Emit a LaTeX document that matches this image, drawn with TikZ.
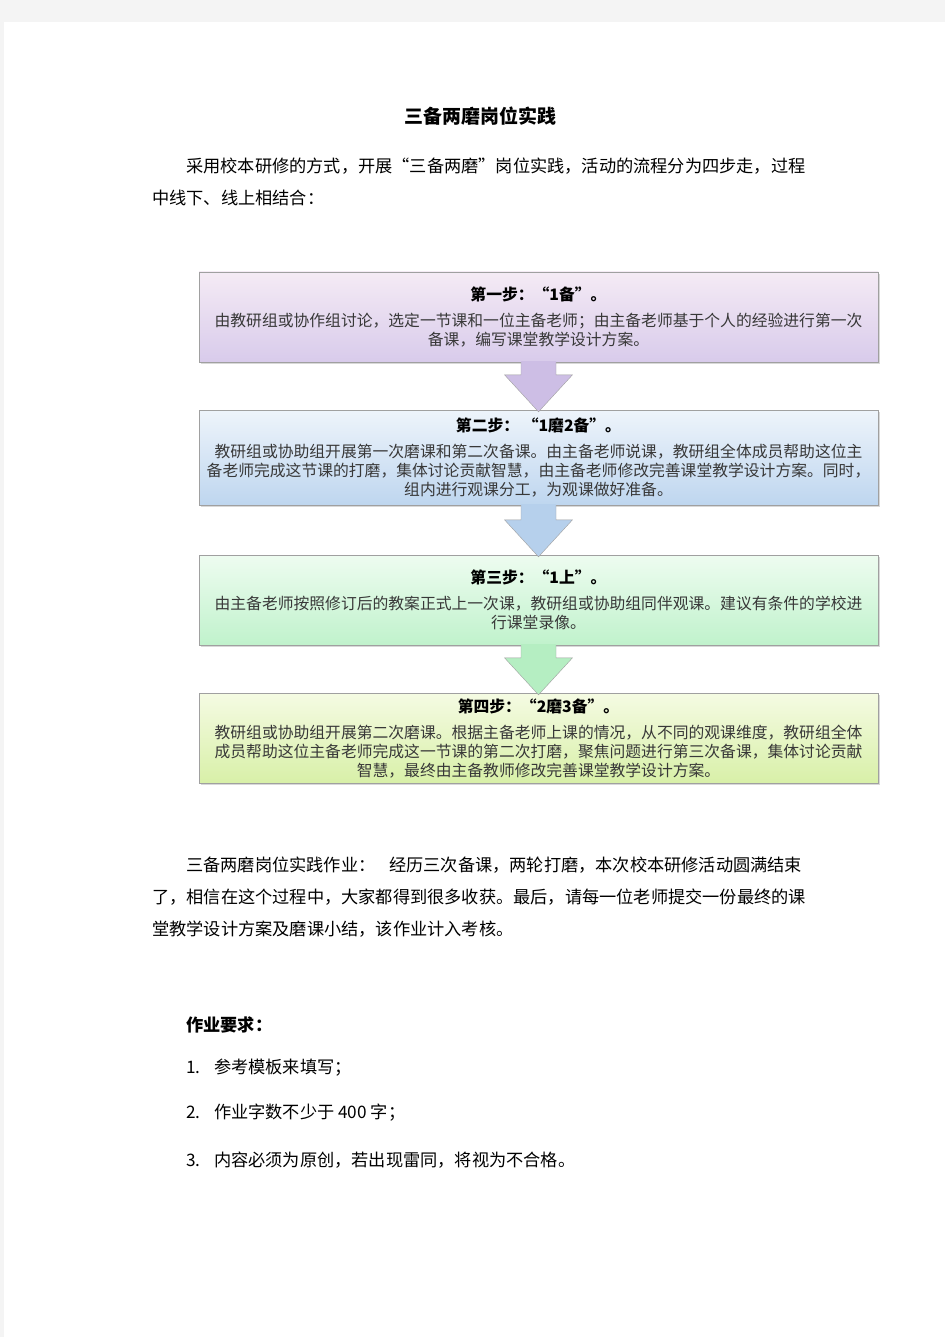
\documentclass[tikz,border=0pt]{standalone}
\usepackage{fontspec}
\setmainfont{Noto Sans CJK SC}
\usetikzlibrary{calc,shadows}
\definecolor{pagegray}{HTML}{F4F4F4}
\definecolor{boxline}{HTML}{A0A0A0}
\definecolor{boxtext}{HTML}{383838}
\definecolor{arrowa}{HTML}{CDBEE5}
\definecolor{arrowb}{HTML}{B6D0EC}
\definecolor{arrowc}{HTML}{B5EEC2}
\tikzset{
  stepbox/.style={draw=boxline, minimum width=679pt, minimum height=90pt, align=center,
    inner sep=0pt, text=boxtext, font=\fontsize{15.8}{19}\selectfont,
    drop shadow={opacity=0.3, shadow xshift=2pt, shadow yshift=-2pt}},
  bodyline/.style={anchor=west, inner sep=0pt, font=\fontsize{17.2}{17.2}\selectfont}
}
\begin{document}
\begin{tikzpicture}[x=1pt,y=-1pt]
\useasboundingbox (0,0) rectangle (945,1337);
\fill[pagegray] (0,0) rectangle (945,1337);
\fill[white] (4,22) rectangle (945,1337);
\node (title) at (480,116) [inner sep=0pt] {\bfseries\fontsize{19}{19}\selectfont 三备两磨岗位实践};
\node (introa) at (186,166) [bodyline] {采用校本研修的方式，开展“三备两磨”岗位实践，活动的流程分为四步走，过程};
\node (introb) at (152,198) [bodyline] {中线下、线上相结合：};
% the four steps
\node (stepa) at (538.5,317) [stepbox, top color=violet!8, bottom color={rgb,255:red,216;green,203;blue,235}]
  {\textcolor{black}{\bfseries 第一步：“1备”。}\\[7pt]
   由教研组或协作组讨论，选定一节课和一位主备老师；由主备老师基于个人的经验进行第一次\\
   备课，编写课堂教学设计方案。};
\node (stepb) at (538.5,457.5) [stepbox, minimum height=95pt, top color={rgb,255:red,238;green,244;blue,251}, bottom color={rgb,255:red,190;green,214;blue,239}]
  {\textcolor{black}{\bfseries 第二步：\ “1磨2备”。}\\[7pt]
   教研组或协助组开展第一次磨课和第二次备课。由主备老师说课，教研组全体成员帮助这位主\\
   备老师完成这节课的打磨，集体讨论贡献智慧，由主备老师修改完善课堂教学设计方案。同时，\\
   组内进行观课分工，为观课做好准备。};
\node (stepc) at (538.5,600) [stepbox, top color={rgb,255:red,238;green,252;blue,240}, bottom color={rgb,255:red,192;green,242;blue,204}]
  {\textcolor{black}{\bfseries 第三步：“1上”。}\\[7pt]
   由主备老师按照修订后的教案正式上一次课，教研组或协助组同伴观课。建议有条件的学校进\\
   行课堂录像。};
\node (stepd) at (538.5,738) [stepbox, top color={rgb,255:red,245;green,251;blue,227}, bottom color={rgb,255:red,216;green,240;blue,168}]
  {\textcolor{black}{\bfseries 第四步：“2磨3备”。}\\[7pt]
   教研组或协助组开展第二次磨课。根据主备老师上课的情况，从不同的观课维度，教研组全体\\
   成员帮助这位主备老师完成这一节课的第二次打磨，聚焦问题进行第三次备课，集体讨论贡献\\
   智慧，最终由主备教师修改完善课堂教学设计方案。};
% block arrows between the steps
\foreach \a/\b/\c in {stepa/stepb/arrowa,stepb/stepc/arrowb,stepc/stepd/arrowc} {
  \coordinate (h) at ($(\b.north)+(0,-35)$);
  \fill[\c] ($(\a.south)+(-17.5,-1)$) -- ($(h)+(-17.5,0)$) -- ($(h)+(-34,0)$) -- ($(\b.north)+(0,2)$)
    -- ($(h)+(34,0)$) -- ($(h)+(17.5,0)$) -- ($(\a.south)+(17.5,-1)$) -- cycle;
  \draw[boxline] ($(\a.south)+(-17.5,0)$) -- ($(h)+(-17.5,0)$) -- ($(h)+(-34,0)$) -- ($(\b.north)+(0,2)$)
    -- ($(h)+(34,0)$) -- ($(h)+(17.5,0)$) -- ($(\a.south)+(17.5,0)$);
}
\node (worka) at (186,865) [bodyline] {三备两磨岗位实践作业：\hspace{14pt}经历三次备课，两轮打磨，本次校本研修活动圆满结束};
\node (workb) at (152,897) [bodyline] {了，相信在这个过程中，大家都得到很多收获。最后，请每一位老师提交一份最终的课};
\node (workc) at (152,929) [bodyline] {堂教学设计方案及磨课小结，该作业计入考核。};
\node (reqhead) at (186,1025) [bodyline] {\bfseries 作业要求：};
\node (reqa) at (186,1068) [bodyline] {\makebox[28pt][l]{1.}参考模板来填写；};
\node (reqb) at (186,1113) [bodyline] {\makebox[28pt][l]{2.}作业字数不少于 400 字；};
\node (reqc) at (186,1160) [bodyline] {\makebox[28pt][l]{3.}内容必须为原创，若出现雷同，将视为不合格。};
\end{tikzpicture}
\end{document}
